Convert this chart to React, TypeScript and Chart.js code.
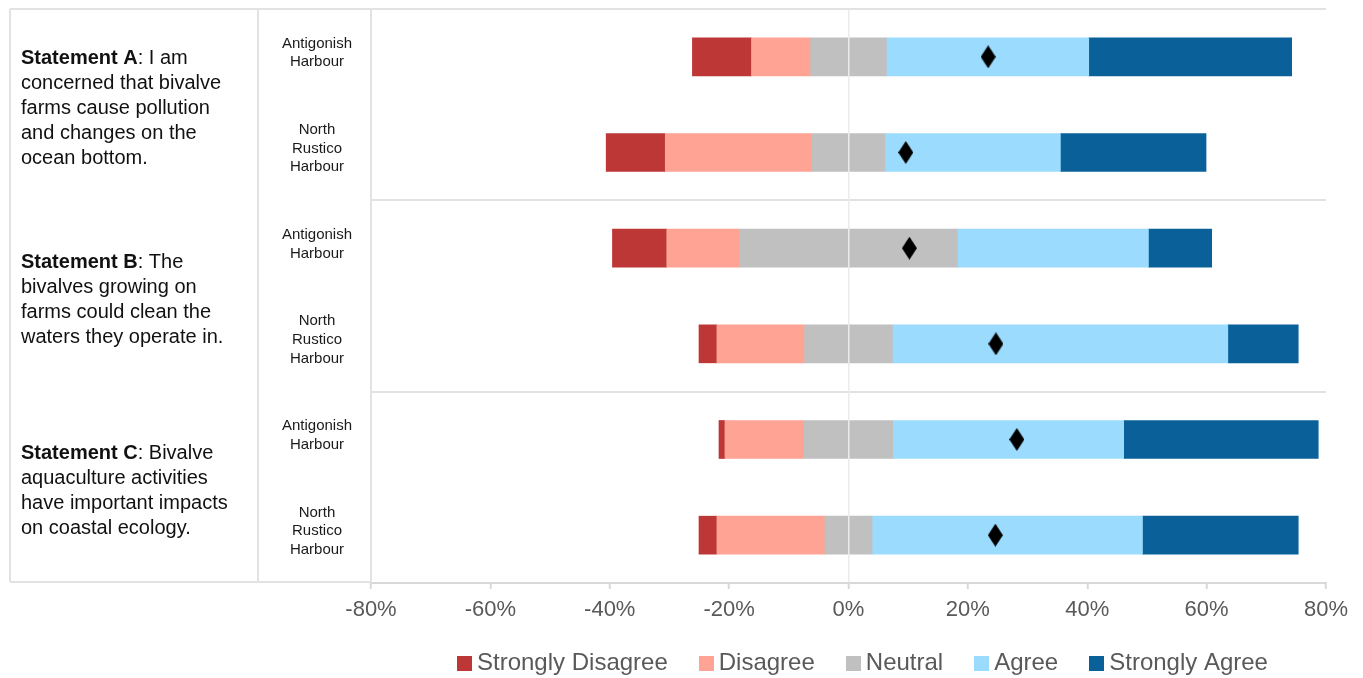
import React, { useEffect, useRef } from 'react';
import { Chart, registerables } from 'chart.js';

Chart.register(...registerables);

// ---------- data ----------
const rowLabels: string[][] = [
  ['Antigonish', 'Harbour'],
  ['North', 'Rustico', 'Harbour'],
  ['Antigonish', 'Harbour'],
  ['North', 'Rustico', 'Harbour'],
  ['Antigonish', 'Harbour'],
  ['North', 'Rustico', 'Harbour'],
];

const stronglyDisagree = [9.9, 9.9, 9.1, 3.0, 1.0, 3.0];
const disagree = [9.9, 24.6, 12.2, 14.7, 13.3, 18.1];
const neutral = [12.7, 12.2, 36.5, 14.7, 14.8, 7.9];
const agree = [33.9, 29.4, 32.0, 56.2, 38.7, 45.3];
const stronglyAgree = [34.0, 24.4, 10.6, 11.8, 32.6, 26.1];
const meanScore = [23.4, 9.6, 10.2, 24.7, 28.2, 24.6];

const xTicks = [-80, -60, -40, -20, 0, 20, 40, 60, 80];

const legendLabels = ['Strongly Disagree', 'Disagree', 'Neutral', 'Agree', 'Strongly Agree'];

const statementTitles = ['Statement A', 'Statement B', 'Statement C'];
const statementFirstRest = [': I am', ': The', ': Bivalve'];
const statementLines: string[][] = [
  ['concerned that bivalve', 'farms cause pollution', 'and changes on the', 'ocean bottom.'],
  ['bivalves growing on', 'farms could clean the', 'waters they operate in.'],
  ['aquaculture activities', 'have important impacts', 'on coastal ecology.'],
];

// ---------- styles ----------
const COLORS = ['#be3737', '#ffa395', '#c0c0c0', '#9bdbfe', '#0a6199'];
const FONT = "'Liberation Sans', Arial, Helvetica, sans-serif";
const LINE = '#e2e2e2';
const AXIS = '#d9d9d9';

function makeSquare(color: string, size: number): HTMLCanvasElement {
  const c = document.createElement('canvas');
  c.width = size;
  c.height = size;
  const g = c.getContext('2d')!;
  g.fillStyle = color;
  g.fillRect(0, 0, size, size);
  return c;
}

function makeDiamond(w: number, h: number): HTMLCanvasElement {
  const c = document.createElement('canvas');
  c.width = w;
  c.height = h;
  const g = c.getContext('2d')!;
  g.fillStyle = '#000';
  g.beginPath();
  g.moveTo(w / 2, 0);
  g.lineTo(w, h / 2);
  g.lineTo(w / 2, h);
  g.lineTo(0, h / 2);
  g.closePath();
  g.fill();
  return c;
}

const tablePlugin = {
  id: 'likertTable',
  beforeDraw(chart: any) {
    const lg = chart.legend;
    if (lg) {
      lg.left = 426;
      lg.right = 3000;
      lg.top = 613;
    }
  },
  afterDraw(chart: any) {
    const ctx: CanvasRenderingContext2D = chart.ctx;
    const a = chart.chartArea;
    ctx.save();
    ctx.lineWidth = 2;
    // x axis line
    ctx.strokeStyle = AXIS;
    ctx.beginPath();
    ctx.moveTo(a.left, a.bottom);
    ctx.lineTo(a.right + 1, a.bottom);
    ctx.stroke();
    // table lines
    ctx.strokeStyle = LINE;
    ctx.beginPath();
    ctx.moveTo(10, a.top);
    ctx.lineTo(a.right, a.top);
    ctx.moveTo(10, a.top);
    ctx.lineTo(10, a.bottom - 1);
    ctx.moveTo(10, a.bottom - 1);
    ctx.lineTo(a.left, a.bottom - 1);
    ctx.moveTo(258, a.top);
    ctx.lineTo(258, a.bottom - 1);
    ctx.moveTo(a.left, a.top);
    ctx.lineTo(a.left, a.bottom);
    ctx.stroke();

    const yScale = chart.scales.y;
    ctx.textBaseline = 'middle';
    ctx.textAlign = 'left';
    ctx.fillStyle = '#111';
    const lh = 25;
    statementTitles.forEach((title, g) => {
      const p0 = yScale.getPixelForValue(2 * g);
      const p1 = yScale.getPixelForValue(2 * g + 1);
      const center = (p0 + p1) / 2 + 4;
      const lines = statementLines[g];
      const n = lines.length + 1;
      let y = center - ((n - 1) * lh) / 2;
      const x = 21;
      ctx.font = `bold 20px ${FONT}`;
      ctx.fillText(title, x, y);
      const bw = ctx.measureText(title).width;
      ctx.font = `20px ${FONT}`;
      ctx.fillText(statementFirstRest[g], x + bw, y);
      lines.forEach((ln) => {
        y += lh;
        ctx.fillText(ln, x, y);
      });
    });
    ctx.restore();
  },
};

export default function App() {
  const ref = useRef<HTMLCanvasElement>(null);

  useEffect(() => {
    document.body.style.margin = '0';
    Chart.defaults.font.family = FONT;
    const legendBoxes = COLORS.map((c) => makeSquare(c, 15));
    const diamond = makeDiamond(15, 23);

    const barBase = {
      type: 'bar' as const,
      stack: 'likert',
      order: 1,
      barThickness: 38,
      borderWidth: 0,
      borderSkipped: false,
    };

    const chart = new Chart(ref.current!, {
      type: 'bar',
      data: {
        labels: rowLabels,
        datasets: [
          { ...barBase, label: 'Neutral (neg)', data: neutral.map((v) => -v / 2), backgroundColor: COLORS[2] },
          { ...barBase, label: 'Disagree', data: disagree.map((v) => -v), backgroundColor: COLORS[1] },
          { ...barBase, label: 'Strongly Disagree', data: stronglyDisagree.map((v) => -v), backgroundColor: COLORS[0] },
          { ...barBase, label: 'Neutral (pos)', data: neutral.map((v) => v / 2), backgroundColor: COLORS[2] },
          { ...barBase, label: 'Agree', data: agree, backgroundColor: COLORS[3] },
          { ...barBase, label: 'Strongly Agree', data: stronglyAgree, backgroundColor: COLORS[4] },
          {
            type: 'scatter' as const,
            label: 'Mean',
            stack: 'mean',
            order: 0,
            data: meanScore.map((v, i) => ({ x: v, y: i })),
            pointStyle: diamond as any,
            pointRadius: 8,
            backgroundColor: '#000',
          } as any,
        ],
      },
      options: {
        responsive: false,
        animation: false,
        indexAxis: 'y',
        layout: { padding: { top: 7, right: 37, left: 0, bottom: 0 } },
        scales: {
          x: {
            type: 'linear',
            min: -80,
            max: 80,
            stacked: true,
            afterBuildTicks: (scale: any) => {
              scale.ticks = xTicks.map((v) => ({ value: v }));
            },
            ticks: {
              callback: (v: any) => `${v}%`,
              font: { size: 22 },
              color: '#595959',
              padding: 8,
            },
            grid: {
              z: 1,
              color: (c: any) => (c.tick && c.tick.value === 0 ? '#ebebeb' : 'rgba(0,0,0,0)'),
              lineWidth: 1.5,
              tickColor: AXIS,
              tickLength: 6,
              tickWidth: 2,
            },
            border: { display: false },
            afterFit: (scale: any) => {
              const lh = scale.chart.legend ? scale.chart.legend.height : 0;
              scale.height = 678 - 583 - lh;
            },
          },
          y: {
            type: 'category',
            stacked: true,
            offset: true,
            grid: {
              offset: true,
              color: (c: any) => (c.index === 2 || c.index === 4 ? LINE : 'rgba(0,0,0,0)'),
              lineWidth: 2,
              drawTicks: false,
              tickLength: 0,
            },
            border: { display: false },
            ticks: {
              autoSkip: false,
              crossAlign: 'center',
              padding: 19,
              labelOffset: -4,
              font: { size: 15, lineHeight: 1.25 },
              color: '#1a1a1a',
            },
            afterFit: (scale: any) => {
              scale.width = 371;
              scale.paddingTop = 0;
              scale.paddingBottom = 0;
            },
          },
        },
        plugins: {
          tooltip: { enabled: false },
          legend: {
            display: true,
            position: 'bottom',
            align: 'start',
            maxHeight: 50,
            onClick: () => {},
            labels: {
              usePointStyle: true,
              boxWidth: 1,
              boxHeight: 15,
              padding: 38,
              font: { size: 24 },
              color: '#595959',
              generateLabels: () =>
                legendLabels.map((t, i) => ({
                  text: t,
                  fillStyle: COLORS[i],
                  strokeStyle: COLORS[i],
                  lineWidth: 0,
                  hidden: false,
                  pointStyle: legendBoxes[i] as any,
                  fontColor: '#595959',
                })),
            },
          },
        },
      } as any,
      plugins: [tablePlugin],
    });
    return () => chart.destroy();
  }, []);

  return (
    <div style={{ width: 1363, height: 678 }}>
      <canvas ref={ref} width={1363} height={678} style={{ display: 'block' }} />
    </div>
  );
}
